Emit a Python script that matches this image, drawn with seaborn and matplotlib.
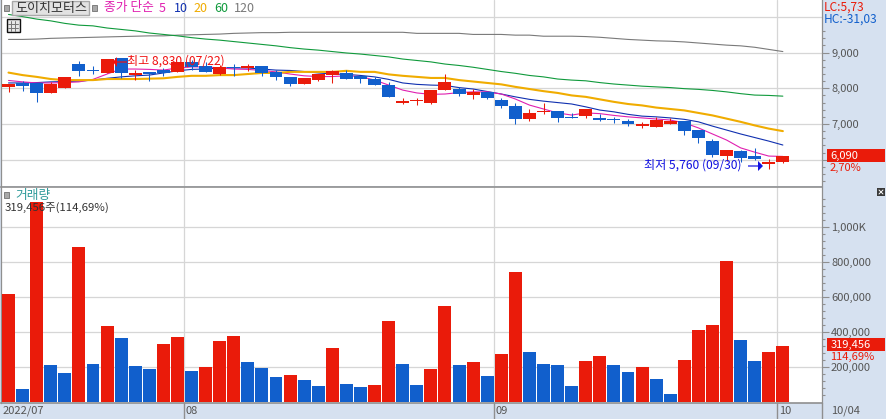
import numpy as np
import pandas as pd
import matplotlib
matplotlib.use("Agg")
import matplotlib.pyplot as plt
from matplotlib.patches import Rectangle, FancyArrow
from matplotlib.lines import Line2D
from matplotlib.ticker import FixedLocator
import seaborn as sns

open_ = [8035,8140,8140,7870,8010,8680,8515,8430,8850,8375,8455,8515,8455,8735,8625,8400,8595,8570,8625,8455,8315,8120,8235,8375,8430,8345,8260,8090,7590,7645,7590,7950,7980,7810,7895,7670,7505,7140,7335,7365,7195,7225,7170,7140,7085,6945,6915,7000,7085,6830,6525,6100,6240,6100,5875,5930]
close = [8120,8065,7870,8120,8315,8485,8485,8820,8430,8430,8400,8430,8735,8595,8455,8595,8570,8625,8430,8315,8120,8290,8400,8485,8260,8260,8090,7755,7645,7670,7950,8175,7840,7895,7730,7505,7140,7310,7365,7170,7170,7420,7110,7110,7000,7000,7110,7085,6805,6605,6130,6270,6045,6015,5930,6100]
high = [8120,8205,8140,8175,8315,8765,8625,8820,8850,8515,8455,8570,8735,8790,8735,8650,8680,8680,8625,8515,8315,8290,8400,8515,8515,8345,8315,8175,7730,7730,7950,8400,8035,7980,7895,7730,7590,7420,7590,7365,7310,7420,7280,7195,7140,7055,7195,7170,7085,6830,6580,6270,6270,6325,6015,6100]
low = [7895,7930,7615,7870,8010,8345,8400,8430,8290,8235,8205,8345,8455,8515,8455,8375,8345,8485,8345,8235,8065,8120,8205,8150,8260,8150,8090,7755,7560,7530,7560,7950,7785,7700,7700,7450,7000,7085,7280,7055,7170,7170,7085,7030,6945,6890,6915,7000,6690,6465,6075,5960,5930,5990,5735,5905]
ma5 = [8220,8180,8150,8150,8160,8180,8250,8400,8540,8540,8530,8510,8570,8600,8600,8570,8540,8530,8500,8460,8400,8350,8330,8330,8350,8330,8230,8090,7950,7870,7830,7840,7880,7900,7900,7840,7700,7530,7420,7310,7250,7310,7290,7240,7200,7170,7140,7110,7030,6890,6720,6550,6330,6210,6100,6090]
ma10 = [8150,8150,8160,8180,8190,8200,8230,8280,8320,8350,8370,8430,8490,8530,8540,8570,8570,8570,8540,8510,8500,8470,8430,8400,8390,8360,8320,8250,8150,8110,8090,8080,8020,7980,7910,7840,7760,7690,7640,7600,7560,7480,7390,7340,7270,7220,7200,7170,7130,7060,6940,6830,6720,6620,6520,6410]
ma20 = [8440,8370,8320,8260,8230,8230,8230,8260,8260,8260,8270,8280,8320,8350,8350,8370,8370,8400,8430,8430,8460,8460,8460,8460,8490,8460,8460,8390,8350,8320,8290,8290,8230,8190,8150,8110,8040,7980,7920,7870,7800,7760,7690,7620,7560,7520,7460,7420,7380,7310,7240,7150,7060,6960,6870,6800]
ma60 = [10070,10010,9940,9890,9820,9770,9750,9690,9650,9610,9550,9510,9470,9420,9380,9350,9310,9270,9230,9190,9140,9100,9070,9030,8990,8960,8920,8880,8820,8780,8740,8680,8640,8590,8530,8470,8420,8360,8320,8260,8230,8210,8160,8120,8090,8060,8040,8020,7990,7970,7940,7900,7850,7810,7800,7780]
ma120 = [9370,9370,9380,9400,9410,9420,9430,9440,9450,9460,9470,9470,9490,9500,9510,9520,9540,9550,9560,9560,9570,9570,9570,9570,9570,9570,9570,9570,9570,9540,9540,9540,9540,9510,9510,9510,9490,9490,9460,9460,9460,9450,9430,9400,9370,9350,9330,9320,9300,9270,9240,9210,9190,9150,9090,9030]
volume = [615000,73000,1141000,210000,164000,884000,215000,433000,364000,204000,187000,330000,370000,175000,198000,347000,375000,227000,193000,141000,153000,124000,90000,307000,101000,84000,95000,461000,215000,95000,187000,547000,210000,227000,147000,273000,741000,284000,215000,210000,90000,233000,261000,210000,170000,198000,130000,44000,238000,410000,438000,804000,352000,233000,284000,319456]

price_ticks = [9000,8000,7000,6000]
price_labels = ["9,000","8,000","7,000",""]
vol_ticks = [1000000,800000,600000,400000,200000]
vol_labels = ["1,000K","800,000","600,000","400,000","200,000"]
month_positions = [12.48,34.48,54.55]
month_labels = ["08","09","10"]

W, H = 886, 419
RED, BLUE = "#EA1B0A", "#115FCC"
PANEL = "#D6E1F0"
GRID = "#D6D6D6"
EDGE = "#8F8F8F"
TXT = "#555555"

sns.set_theme(style="white")
plt.rcParams["font.family"] = ["Noto Sans CJK KR", "DejaVu Sans"]

fig = plt.figure(figsize=(W/100, H/100), dpi=100, facecolor=PANEL)

def axes_px(x0, y0, x1, y1):
    return fig.add_axes([x0/W, 1-y1/H, (x1-x0)/W, (y1-y0)/H])

def T(x, y, s, color=TXT, size=8, **kw):
    return fig.text(x/W, 1-y/H, s, color=color, fontsize=size, va="center", ha=kw.pop("ha", "left"), zorder=6, **kw)

def R(x0, y0, x1, y1, fc, ec="none", lw=0, z=4):
    fig.add_artist(Rectangle((x0/W, 1-y1/H), (x1-x0)/W, (y1-y0)/H, transform=fig.transFigure,
                             facecolor=fc, edgecolor=ec, linewidth=lw, zorder=z))

def L(x0, y0, x1, y1, color=EDGE, lw=1.0, z=4):
    fig.add_artist(Line2D([x0/W, x1/W], [1-y0/H, 1-y1/H], transform=fig.transFigure, color=color, lw=lw, zorder=z))

idx = np.arange(len(close))
ax1 = axes_px(1, 0, 822, 186)
ax2 = axes_px(1, 187, 822, 403)
xlim = (-0.533, 57.78)

# price panel
for p in [10000] + price_ticks:
    ax1.axhline(p, color=GRID, lw=0.9, zorder=1)
for m in month_positions:
    ax1.axvline(m, color=GRID, lw=0.9, zorder=1)
    ax2.axvline(m, color=GRID, lw=0.9, zorder=1)

for series, color, lw in [(ma120, "#7A7A7A", 0.8), (ma60, "#109A3C", 0.8), (ma10, "#1030B0", 0.8),
                          (ma5, "#E020B0", 0.8), (ma20, "#F0AC00", 1.5)]:
    sns.lineplot(x=idx, y=series, color=color, lw=lw, ax=ax1, zorder=2, errorbar=None)

o, c, h, l = map(np.array, (open_, close, high, low))
cols = np.where(c >= o, RED, BLUE)
ax1.vlines(idx, l, h, colors=cols, lw=0.75, zorder=3)
ax1.bar(idx, np.maximum(np.abs(c-o), 30), bottom=np.minimum(o, c), width=0.92, color=cols, linewidth=0, zorder=3)

ax1.set_xlim(*xlim)
ax1.set_ylim(10475-28.03*186, 10475)
ax1.set_xticks([])
ax1.set_xlabel(""); ax1.set_ylabel("")

# volume panel
dfv = pd.DataFrame({"idx": idx, "volume": volume})
dfv["dir"] = np.where(dfv["volume"].diff().fillna(1) > 0, "up", "down")
for v in vol_ticks:
    ax2.axhline(v, color=GRID, lw=0.9, zorder=1)
sns.barplot(data=dfv, x="idx", y="volume", hue="dir", palette={"up": RED, "down": BLUE}, dodge=False,
            native_scale=True, width=0.92, saturation=1, legend=False, linewidth=0, ax=ax2, zorder=3)
ax2.set_xlim(*xlim)
ax2.set_ylim(-7400, 1229000)
ax2.set_xticks([])
ax2.set_xlabel(""); ax2.set_ylabel("")

for ax, ticks, labels, minors in [
    (ax1, price_ticks, price_labels, [p for p in range(5400, 9800, 200) if p % 1000]),
    (ax2, vol_ticks, vol_labels, [v for v in range(40000, 1200000, 40000) if v % 200000]),
]:
    ax.set_facecolor("white")
    ax.yaxis.tick_right()
    ax.set_yticks(ticks)
    ax.set_yticklabels(labels)
    ax.yaxis.set_minor_locator(FixedLocator(minors))
    ax.tick_params(axis="y", which="major", length=5, width=0.8, color=EDGE, labelsize=8, labelcolor=TXT, pad=1.5, right=True)
    ax.tick_params(axis="y", which="minor", length=2.3, width=0.8, color=EDGE, right=True)
    for s in ["top", "bottom", "left", "right"]:
        ax.spines[s].set_color(EDGE)
        ax.spines[s].set_linewidth(0.9)
        ax.spines[s].set_visible(True)
ax1.spines["top"].set_visible(False)
ax1.spines["bottom"].set_visible(False)
ax2.spines["top"].set_linewidth(1.2)
ax2.spines["bottom"].set_linewidth(1.2)

# date strip
T(3, 411, "2022/07")
L(184, 403, 184, 419)
L(494, 403, 494, 419)
L(777, 403, 777, 419)
L(822, 403, 822, 419)
for m, lab in zip([186, 496, 779], month_labels):
    T(m, 411, lab)
T(831, 411, "10/04")

# header
R(4, 5, 9, 11, "#A8A8A8", "#707070", 0.6)
R(11.5, 1.5, 88.5, 15, "#E2E2E2", "#A8A8A8", 1.0)
T(15, 8.5, "도이치모터스", color="#333333", size=9.4)
R(92, 5, 97, 11, "#A8A8A8", "#707070", 0.6)
T(104, 8, "종가 단순", color="#E020B0", size=9.2)
T(159, 8, "5", color="#E020B0", size=9)
T(174, 8, "10", color="#1030B0", size=9)
T(193, 8, "20", color="#F0AC00", size=9)
T(214, 8, "60", color="#109A3C", size=9)
T(234, 8, "120", color="#7A7A7A", size=9)
R(6.5, 19.5, 19.5, 32.5, "#E8E8E8", "#111111", 1.0)
for g in (10.5, 15):
    L(g, 21, g, 31, "#777777", 0.7, 5)
L(8, 24, 18, 24, "#777777", 0.7, 5)
L(8, 28, 18, 28, "#777777", 0.7, 5)

# annotations
T(127, 61.5, "최고 8,830 (07/22)", color="#F01010", size=8.7)
fig.add_artist(FancyArrow(127/W, 1-62/H, -14/W, 0, width=1.2/H, head_width=10/H, head_length=4/W,
                          length_includes_head=True, transform=fig.transFigure, color="#F01010", lw=0, zorder=6))
T(644, 165, "최저 5,760 (09/30)", color="#1010E0", size=8.7)
fig.add_artist(FancyArrow(748/W, 1-166/H, 15/W, 0, width=1.2/H, head_width=10/H, head_length=5/W,
                          length_includes_head=True, transform=fig.transFigure, color="#1010E0", lw=0, zorder=6))

# right side readouts
T(823.5, 7, "LC:5,73", color="#EA1B0A", size=8.6)
T(823.5, 19, "HC:-31,03", color=BLUE, size=8.6)
R(827, 149, 885, 162, RED)
T(830.5, 155.5, "6,090", color="white", size=8)
T(830, 168, "2,70%", color=RED, size=8)
R(827, 338, 885, 351, RED)
T(830.5, 344.5, "319,456", color="white", size=8)
T(830, 357, "114,69%", color=RED, size=8)
R(877, 188, 885, 196, "#3A3A3A")
L(879, 190, 883, 194, "white", 0.7, 5)
L(879, 194, 883, 190, "white", 0.7, 5)

# volume header
R(4, 192, 9, 198, "#A8A8A8", "#707070", 0.6)
T(15, 195, "거래량", color="#2F9B9B", size=9.2)
T(5, 208, "319,456주(114,69%)", color="#333333", size=8.2)

fig.savefig("out.png", dpi=100, facecolor=PANEL)
